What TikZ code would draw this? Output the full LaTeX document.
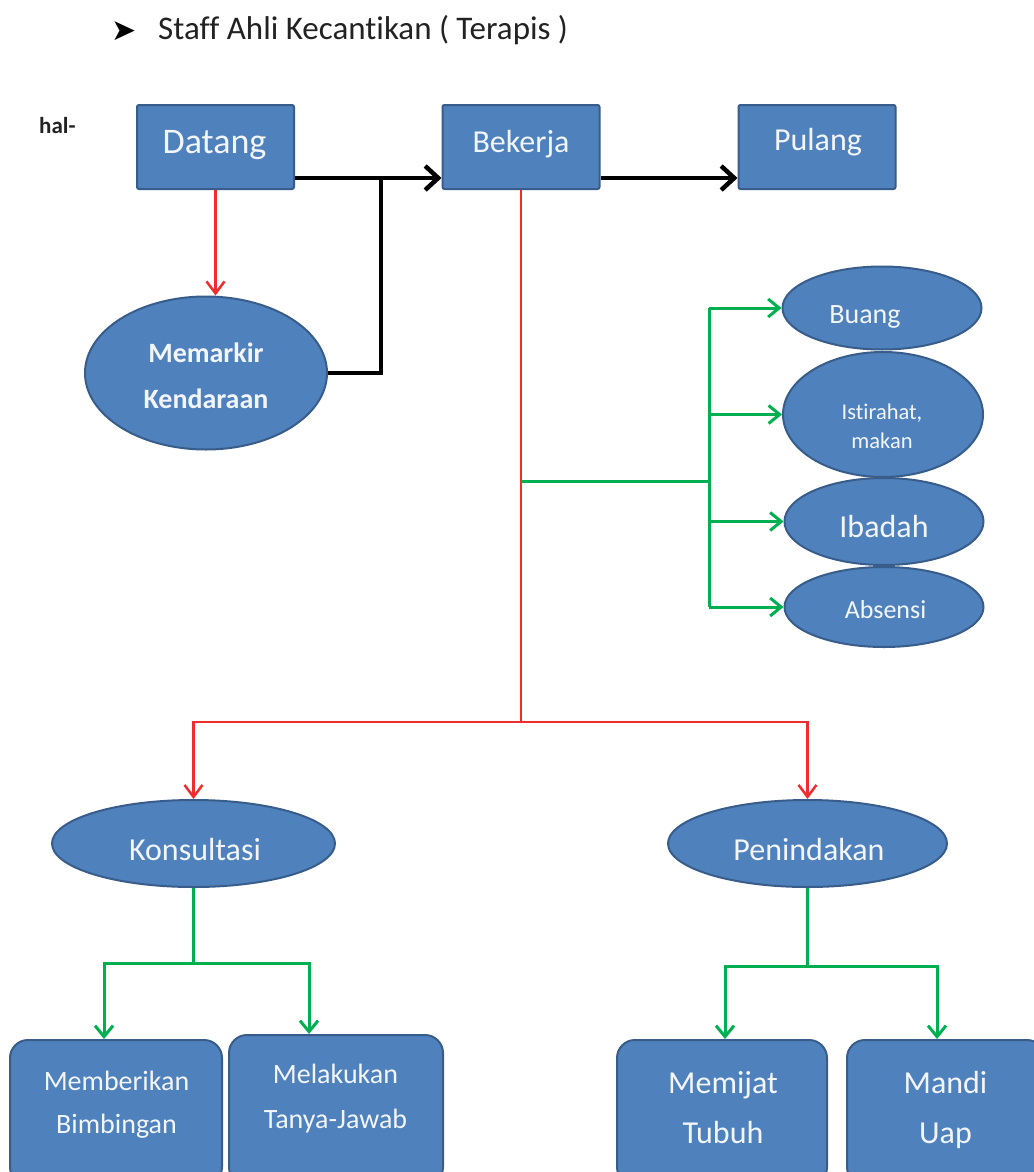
\documentclass[tikz,border=0pt]{standalone}
\usepackage{fontspec}
\setmainfont{Carlito}[Ligatures=NoCommon]
\newfontfamily\symfont{DejaVu Sans}
\usetikzlibrary{shapes.geometric,arrows.meta}
\definecolor{boxfill}{HTML}{4F81BD}
\definecolor{boxline}{HTML}{385D8A}
\definecolor{flowred}{RGB}{240,45,45}
\definecolor{flowgreen}{RGB}{0,176,80}
\definecolor{labelwhite}{HTML}{F2F5FA}
\definecolor{inkgray}{HTML}{222222}
\newcommand{\fs}[1]{\fontsize{#1}{1.45\dimexpr#1pt\relax}\selectfont}

\begin{document}
\begin{tikzpicture}[x=1pt,y=-1pt,
  topbox/.style={rectangle, draw=boxline, fill=boxfill, line width=2pt,
    rounded corners=2pt, minimum width=157pt, minimum height=84pt, inner sep=0pt},
  oval/.style={ellipse, draw=boxline, fill=boxfill, line width=2pt, inner sep=0pt},
  subbox/.style={rectangle, draw=boxline, fill=boxfill, line width=2pt,
    rounded corners=18pt, inner sep=0pt},
  lbl/.style={text=labelwhite, inner sep=0pt, anchor=base, align=center},
  blackline/.style={line width=4.5pt, black},
  blackflow/.style={blackline, -{Straight Barb[length=13pt,width=24pt]}},
  redline/.style={line width=2.5pt, flowred},
  redflow/.style={redline, -{Straight Barb[length=12pt,width=18pt]}},
  greenline/.style={line width=3pt, flowgreen},
  greenflow/.style={greenline, -{Straight Barb[length=11pt,width=18pt]}},
]
\fill[white] (0,0) rectangle (1033,1172);
\useasboundingbox (0,0) rectangle (1033,1172);

% heading
\node[inner sep=0pt, text=black] (bullet) at (124,31) {\symfont\fs{30}➤};
\node[anchor=base west, inner sep=0pt, text=inkgray] (title) at (158,40)
  {\fs{33}Staff Ahli Kecantikan ( Terapis )};
\node[anchor=base west, inner sep=0pt, text=inkgray] (hal) at (39,133) {\bfseries\fs{23}hal-};

% top row
\node[topbox] (datang) at (215.5,147) {};
\node[lbl, font=\fs{36}] (datangT) at (214.5,153) {Datang};
\node[topbox] (bekerja) at (521,147) {};
\node[lbl, font=\fs{32}] (bekerjaT) at (521,152) {Bekerja};
\node[topbox] (pulang) at (817,147) {};
\node[lbl, font=\fs{32}] (pulangT) at (818,150) {Pulang};

% parking
\node[oval, minimum width=242pt, minimum height=153pt] (memarkir) at (206,373) {};
\node[lbl, font=\bfseries\fontsize{28}{46}\selectfont] (memarkirT) at (206,408) {Memarkir\\Kendaraan};

% breaks during work
\node[oval, minimum width=199pt, minimum height=83pt] (buang) at (882,308) {};
\node[lbl, font=\fs{28}] (buangT) at (865,323) {Buang};
\node[oval, minimum width=200pt, minimum height=125pt] (istirahat) at (883,414.5) {};
\node[lbl, font=\fontsize{22.5}{29}\selectfont] (istirahatT) at (882,448) {Istirahat,\\makan};
\node[oval, minimum width=199pt, minimum height=87pt] (ibadah) at (884,521.5) {};
\node[lbl, font=\fs{32}] (ibadahT) at (884,537) {Ibadah};
\node[oval, minimum width=199pt, minimum height=80pt] (absensi) at (884,607) {};
\node[lbl, font=\fs{26}] (absensiT) at (885.5,618) {Absensi};

% main tasks
\node[oval, minimum width=283pt, minimum height=87pt] (konsultasi) at (193.5,843.5) {};
\node[lbl, font=\fs{32}] (konsultasiT) at (195,860) {Konsultasi};
\node[oval, minimum width=279pt, minimum height=87pt] (penindakan) at (807.5,843.5) {};
\node[lbl, font=\fs{32}] (penindakanT) at (809,860) {Penindakan};

% task details
\node[subbox, minimum width=212pt, minimum height=145pt] (memberikan) at (116,1112.5) {};
\node[lbl, font=\fontsize{28}{43}\selectfont] (memberikanT) at (116.5,1133) {Memberikan\\Bimbingan};
\node[subbox, minimum width=214pt, minimum height=150pt] (melakukan) at (336,1110) {};
\node[lbl, font=\fontsize{28}{45}\selectfont] (melakukanT) at (335.5,1128) {Melakukan\\Tanya-Jawab};
\node[subbox, minimum width=210pt, minimum height=145pt] (memijat) at (722,1112.5) {};
\node[lbl, font=\fontsize{32}{50}\selectfont] (memijatT) at (723,1143) {Memijat\\Tubuh};
\node[subbox, minimum width=198pt, minimum height=145pt] (mandi) at (946,1112.5) {};
\node[lbl, font=\fontsize{32}{50}\selectfont] (mandiT) at (945.5,1143) {Mandi\\Uap};

% black flow: arrival to work to leaving
\draw[blackflow] ([yshift=12pt]datang.south east) -- ([yshift=12pt]bekerja.south west);
\draw[blackflow] ([yshift=12pt]bekerja.south east) -- ([yshift=12pt]pulang.south west);
\coordinate (jb) at (381,177);
\draw[blackline] (memarkir.east) -| (jb);

% red flow
\draw[redflow] (datang.south) -- (datang.south |- memarkir.north);
\coordinate (rj) at (521,722);
\draw[redline] (bekerja.south) -- (rj);
\draw[redflow] (rj) -| (konsultasi.north);
\draw[redflow] (rj) -| (penindakan.north);

% green flow: breaks
\coordinate (gj) at (521,481);
\coordinate (gbus) at (709,481);
\draw[greenline] (gj) -- (gbus);
\draw[greenline] (gbus |- buang.west) -- (gbus |- absensi.west);
\foreach \n in {buang,istirahat,ibadah,absensi}
  \draw[greenflow] (gbus |- \n.west) -- (\n.west);

% green flow: task details
\coordinate (kj) at (193.5,963);
\draw[greenline] (konsultasi.south) -- (kj);
\draw[greenflow] (kj) -| ([xshift=-12pt]memberikan.north);
\draw[greenflow] (kj) -| ([xshift=-27pt]melakukan.north);
\coordinate (pj) at (807.5,966);
\draw[greenline] (penindakan.south) -- (pj);
\draw[greenflow] (pj) -| ([xshift=3pt]memijat.north);
\draw[greenflow] (pj) -| ([xshift=-9pt]mandi.north);
\end{tikzpicture}
\end{document}
